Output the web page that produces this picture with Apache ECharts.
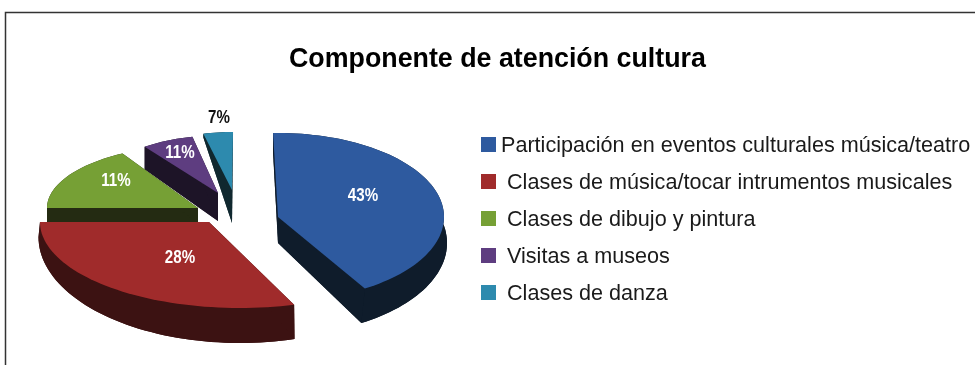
<!DOCTYPE html>
<html>
<head>
<meta charset="utf-8">
<style>html,body{margin:0;padding:0;background:#fff}#c{width:975px;height:365px}</style>
<script src="https://cdn.jsdelivr.net/npm/echarts@6/dist/echarts.min.js"></script>
</head>
<body>
<div id="c"></div>
<script>
const titleText = 'Componente de atención cultura';
const categories = [
  'Participación en eventos culturales música/teatro',
  'Clases de música/tocar intrumentos musicales',
  'Clases de dibujo y pintura',
  'Visitas a museos',
  'Clases de danza'
];
const values = [43, 28, 11, 11, 7];

const topColors = ['#2e5a9f', '#a02b2b', '#76a035', '#5e3d80', '#2d8aae'];
const wallColors = ['#0f1c2b', '#3c1212', '#242b12', '#1d1427', '#10282f'];
const labelColors = ['#fff', '#fff', '#fff', '#fff', '#111'];
const FONT = '"Liberation Sans", Arial, sans-serif';

// Layout of each exploded, perspective-distorted wedge. The sweep of each wedge
// comes from its value; warp reproduces the reference's perspective distortion.
const layout = [
  {cx:278, cy:217, rx:166, ry:84, apexDx:0,   start:-1.7,  warp:0.97,  depth:26, rxB:169,   ryB:92,   sweepB:2, z:5, lx:85,   ly:-21},
  {cx:240, cy:222, rx:200, ry:86, apexDx:-31, start:164.3, warp:1.049, depth:15, rxB:201.5, ryB:106,  sweepB:0, z:4, lx:-29,  ly:36},
  {cx:198, cy:208, rx:151, ry:63, apexDx:0,   start:270,   warp:1.515, depth:15, rxB:151,   ryB:63,   sweepB:0, z:3, lx:-82,  ly:-27},
  {cx:218, cy:193, rx:123, ry:57.5,apexDx:0,  start:-36.6, warp:0.621, depth:28, rxB:123,   ryB:64.6, sweepB:0, z:2, lx:-38,  ly:-40},
  {cx:232, cy:190, rx:120, ry:58, apexDx:0,   start:-13.8, warp:0.567, depth:33, rxB:120,   ryB:88,   sweepB:0, z:1, lx:-13,  ly:-72}
];

function pt(cx, cy, rx, ry, deg) {
  const a = deg * Math.PI / 180;
  return [cx + rx * Math.sin(a), cy - ry * Math.cos(a)];
}
function arc(cx, cy, rx, ry, from, sweep) {
  const out = [], n = Math.max(4, Math.ceil(sweep / 2));
  for (let i = 0; i <= n; i++) out.push(pt(cx, cy, rx, ry, from + sweep * i / n));
  return out;
}
function renderer(i) {
  return function (params, api) {
    const L = layout[i];
    const sweep = api.value(0) * 3.6 * L.warp;
    const apexTop = [L.cx + L.apexDx, L.cy];
    const apexBot = [L.cx + L.apexDx, L.cy + L.depth];
    const arcTop = arc(L.cx, L.cy, L.rx, L.ry, L.start, sweep);
    const arcBot = arc(L.cx, L.cy + L.depth, L.rxB, L.ryB, L.start, sweep + L.sweepB);
    const poly = (points, fill) => ({type:'polygon', shape:{points}, style:{fill}, silent:true});
    const wall = wallColors[i];
    return {
      type: 'group',
      children: [
        poly([apexBot].concat(arcBot), wall),
        poly(arcTop.concat(arcBot.slice().reverse()), wall),
        poly([apexTop, arcTop[0], arcBot[0], apexBot], wall),
        poly([apexTop, arcTop[arcTop.length-1], arcBot[arcBot.length-1], apexBot], wall),
        poly([apexTop].concat(arcTop), topColors[i]),
        {type:'text', silent:true,
          x: apexTop[0] + L.lx, y: apexTop[1] + L.ly, scaleX:0.84,
          style:{
            text: api.value(0) + '%', x:0, y:0,
            align:'center', verticalAlign:'middle',
            font: 'bold 18px ' + FONT, fill: labelColors[i]
        }}
      ]
    };
  };
}

const legendBase = {
  orient:'vertical', icon:'rect', itemWidth:15, itemHeight:15, itemGap:15,
  selectedMode:false, padding:0,
  formatter: name => '{t|' + name + '}'
};
const legendText = pad => ({
  rich:{t:{fontFamily:FONT, fontSize:21.6, color:'#1a1a1a', padding:[3,0,0,pad]}}
});

const chart = echarts.init(document.getElementById('c'), null, {renderer:'canvas'});
chart.setOption({
  animation:false,
  backgroundColor:'#fff',
  title:{text:titleText, left:289, top:46, padding:0,
    textStyle:{fontFamily:FONT, fontWeight:'bold', fontSize:26.8, color:'#000'}},
  legend:[
    Object.assign({}, legendBase, {data:categories.slice(0,1), left:481, top:135, textStyle:legendText(0)}),
    Object.assign({}, legendBase, {data:categories.slice(1), left:481, top:172, textStyle:legendText(6)})
  ],
  graphic:[{type:'polyline', silent:true,
    shape:{points:[[5.5,365],[5.5,12.5],[975,12.5]]},
    style:{fill:null, stroke:'#333', lineWidth:1.5}}],
  series: categories.map((name,i)=>({
    type:'custom', name, coordinateSystem:'none', z:layout[i].z+1,
    itemStyle:{color:topColors[i]},
    data:[[values[i]]], renderItem:renderer(i), silent:true
  }))
});
</script>
</body>
</html>
